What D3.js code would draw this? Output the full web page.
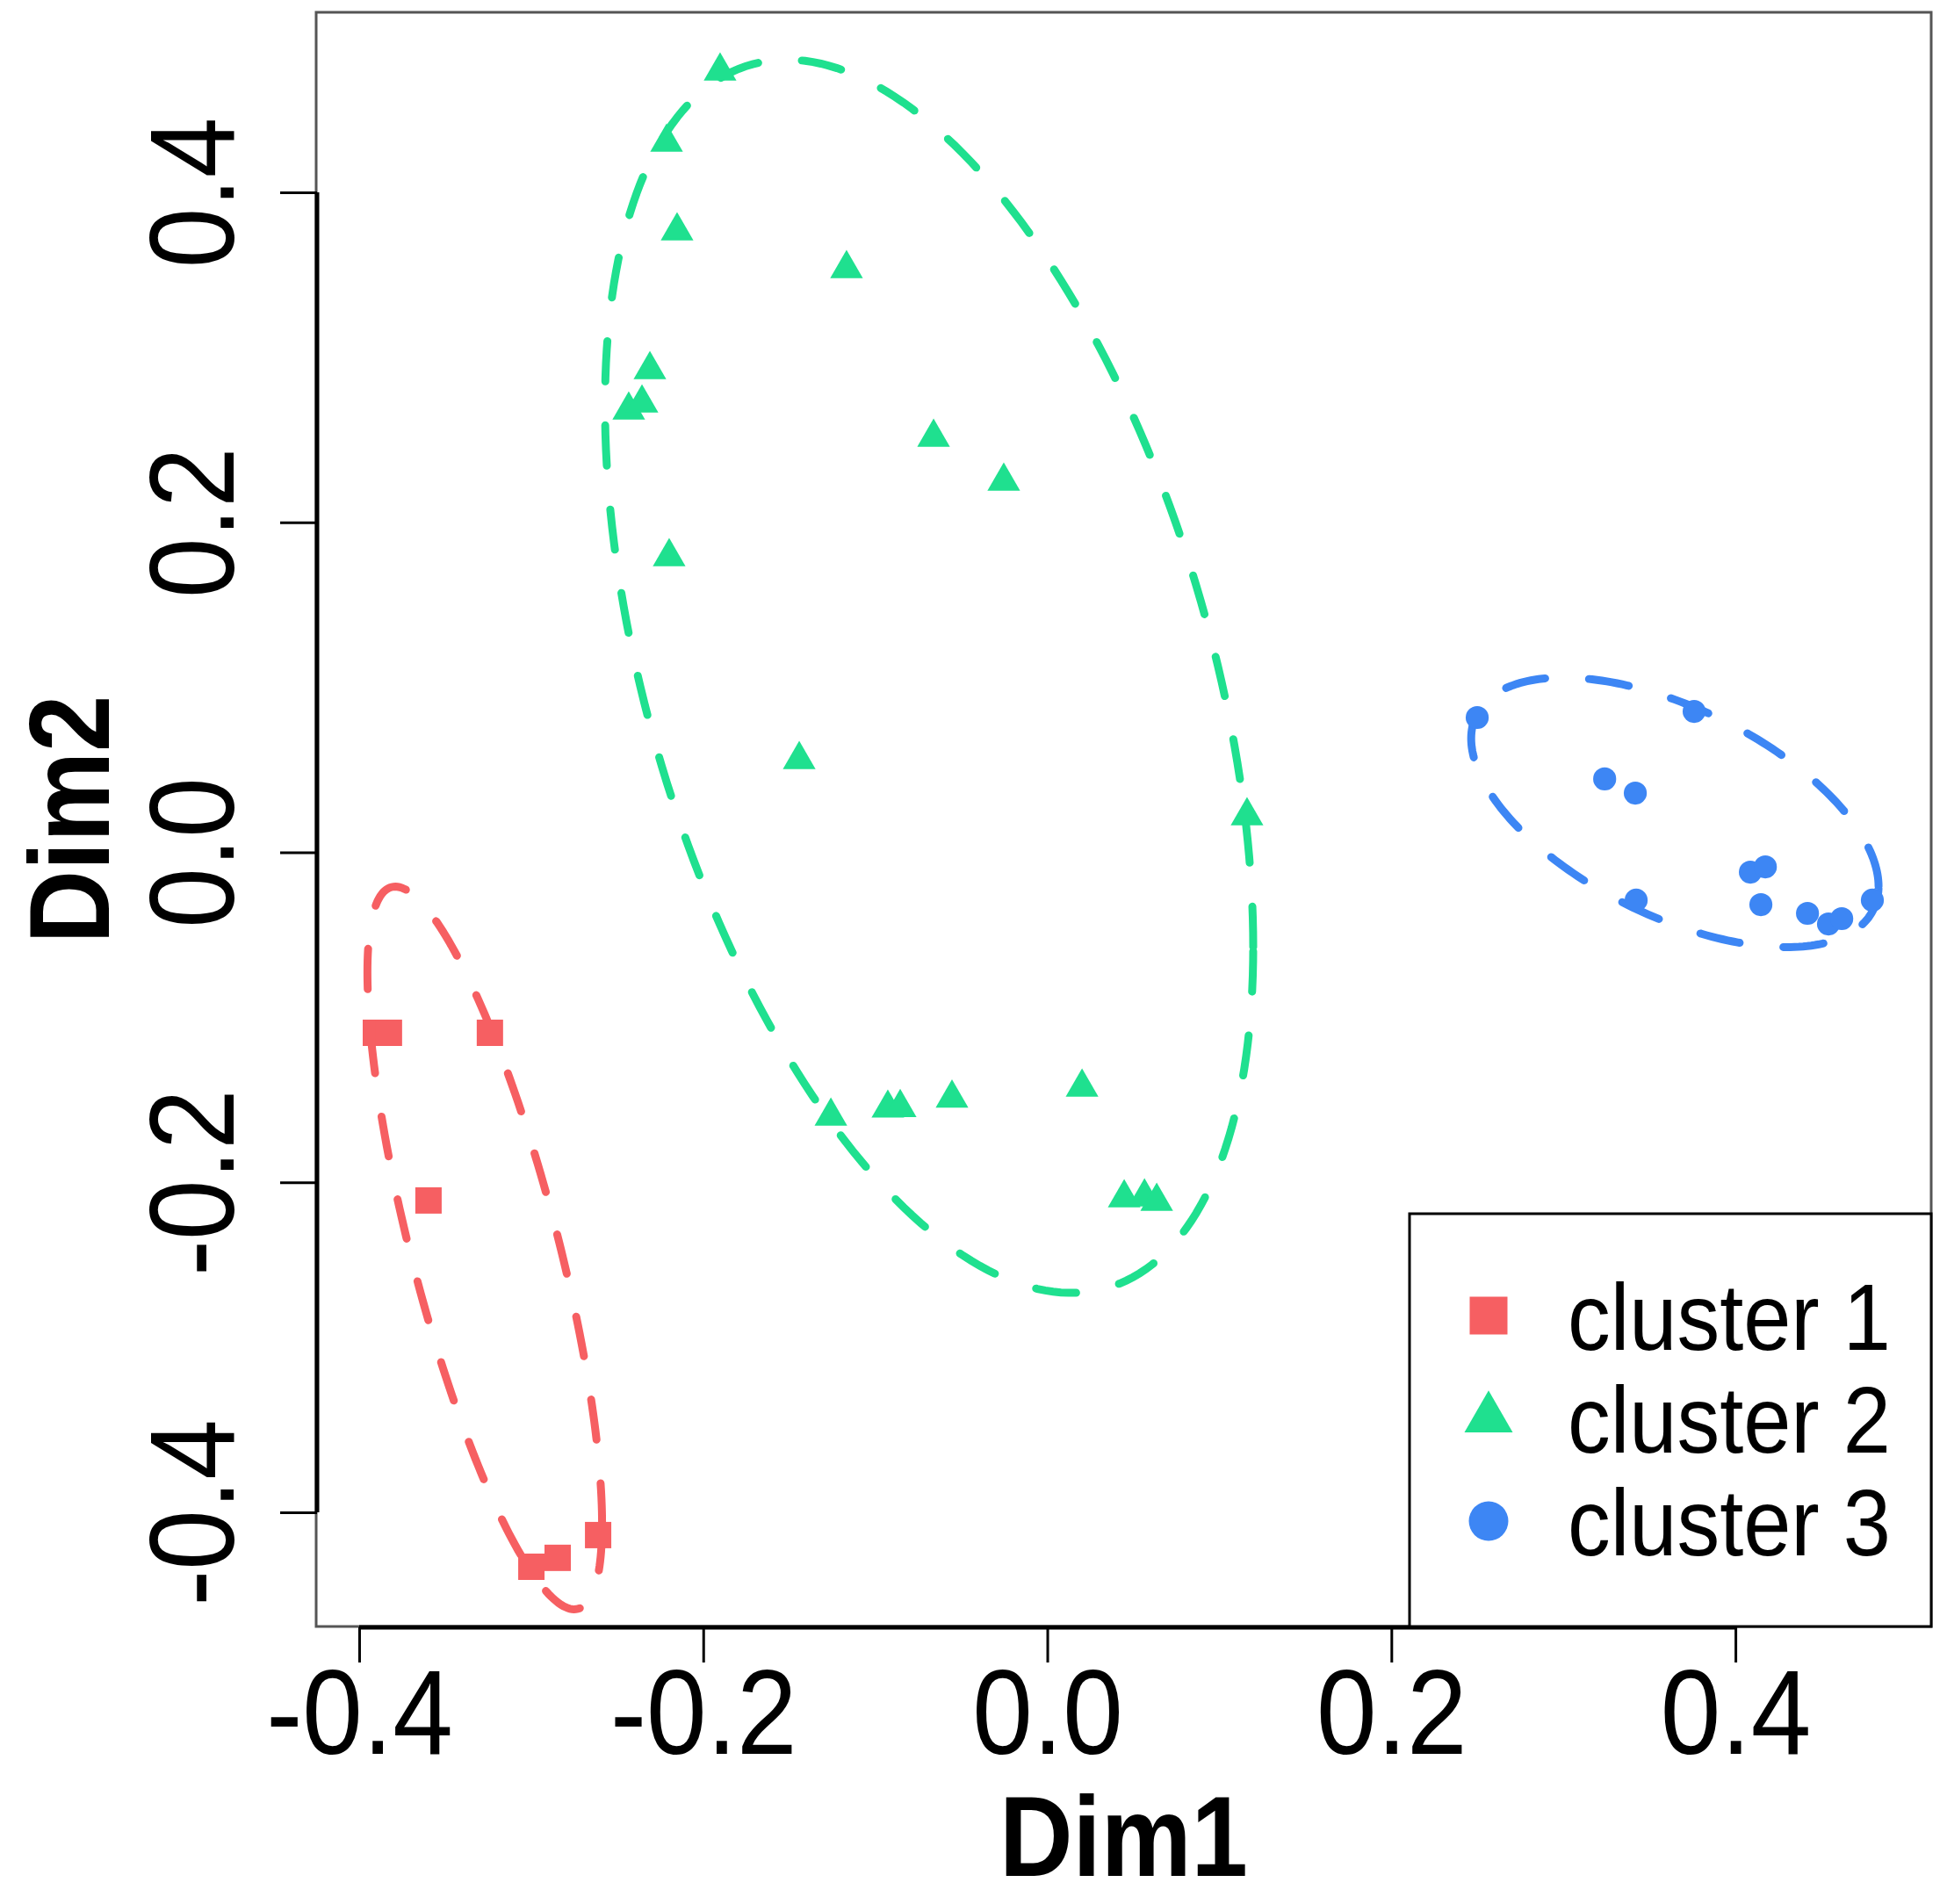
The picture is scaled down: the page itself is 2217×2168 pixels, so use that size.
<!DOCTYPE html>
<html>
<head>
<meta charset="utf-8">
<script src="https://cdn.jsdelivr.net/npm/d3@7"></script>
<style>
  body { margin: 0; background: #fff; }
  text { font-family: "Liberation Sans", Arial, sans-serif; fill: #000; }
</style>
</head>
<body>
<div id="chart"></div>
<script>
// cluster points (Dim1, Dim2)
var cluster1X = [-0.3903, -0.3827, -0.3240, -0.3597, -0.2999, -0.2846, -0.2611];
var cluster1Y = [-0.1094, -0.1094, -0.1094, -0.2110, -0.4330, -0.4276, -0.4138];

var cluster2X = [-0.1902, -0.2213, -0.2152, -0.1167, -0.2310, -0.2433, -0.2356, -0.0661, -0.0253, -0.2198,
                 -0.1442, 0.1161, -0.1258, -0.0927, -0.0855, -0.0554, 0.0202, 0.0447, 0.0565, 0.0636];
var cluster2Y = [0.4735, 0.4303, 0.3766, 0.3537, 0.2925, 0.2680, 0.2723, 0.2515, 0.2249, 0.1791,
                 0.0562, 0.0221, -0.1600, -0.1551, -0.1548, -0.1490, -0.1424, -0.2095, -0.2089, -0.2116];

var cluster3X = [0.2499, 0.3760, 0.3240, 0.3418, 0.4087, 0.4174, 0.4148, 0.4419, 0.4541, 0.4618, 0.4796, 0.3423];
var cluster3Y = [0.0817, 0.0854, 0.0445, 0.0359, -0.0120, -0.0088, -0.0317, -0.0370, -0.0434, -0.0402, -0.0290, -0.0290];

// ellipses: centre, sd along each axis, correlation
var ellCx = [-0.3270, -0.0687, 0.3648];
var ellCy = [-0.2398, 0.1067, 0.0242];
var ellSx = [0.0682, 0.1884, 0.1184];
var ellSy = [0.2190, 0.3737, 0.0817];
var ellR  = [-0.763, -0.439, -0.548];

var clusterNames = ["cluster 1", "cluster 2", "cluster 3"];
var colors = ["#f65f62", "#1fe08f", "#3d86f4"];
var xTicks = [-0.4, -0.2, 0.0, 0.2, 0.4];
var yTicks = [-0.4, -0.2, 0.0, 0.2, 0.4];

var W = 2217, H = 2168;
var box = {left: 360, right: 2199, top: 14, bottom: 1852};
var squeeze = 0.89; // text in the picture looks condensed

var svg = d3.select("#chart").append("svg")
    .attr("width", W)
    .attr("height", H);

var x = d3.scaleLinear().domain([-0.425, 0.5138]).range([box.left, box.right]);
var y = d3.scaleLinear().domain([-0.4692, 0.5091]).range([box.bottom, box.top]);

// plot frame
svg.append("rect")
    .attr("x", box.left)
    .attr("y", box.top)
    .attr("width", box.right - box.left)
    .attr("height", box.bottom - box.top)
    .attr("fill", "none")
    .attr("stroke", "#555")
    .attr("stroke-width", 3);

// x axis
var fmt = function (d) { return d.toFixed(1); };
var xAxis = svg.append("g")
    .attr("transform", "translate(0," + (box.bottom + 1) + ")")
    .call(d3.axisBottom(x).tickValues(xTicks).tickFormat(fmt).tickSize(40).tickPadding(0));
xAxis.select(".domain").remove();
xAxis.selectAll(".tick line").attr("stroke", "#000").attr("stroke-width", 3);
xAxis.selectAll(".tick text")
    .attr("y", 144)
    .attr("dy", null)
    .attr("transform", "scale(0.9,1)")
    .style("font-size", "137px");
xAxis.append("line")
    .attr("x1", x(-0.4)).attr("x2", x(0.4))
    .attr("stroke", "#000").attr("stroke-width", 5);

// y axis
var yAxis = svg.append("g")
    .attr("transform", "translate(" + (box.left + 1) + ",0)")
    .call(d3.axisLeft(y).tickValues(yTicks).tickFormat(fmt).tickSize(42).tickPadding(0));
yAxis.select(".domain").remove();
yAxis.selectAll(".tick line").attr("stroke", "#000").attr("stroke-width", 3);
yAxis.selectAll(".tick text")
    .attr("x", 0)
    .attr("y", 0)
    .attr("dy", null)
    .attr("text-anchor", "middle")
    .attr("transform", "translate(-95,0) rotate(-90) scale(0.9,1)")
    .style("font-size", "137px");
yAxis.append("line")
    .attr("y1", y(-0.4)).attr("y2", y(0.4))
    .attr("stroke", "#000").attr("stroke-width", 5);

// axis titles
svg.append("text")
    .attr("transform", "translate(" + ((box.left + box.right) / 2) + ",2136) scale(" + squeeze + ",1)")
    .attr("text-anchor", "middle")
    .style("font-size", "130px")
    .style("font-weight", "bold")
    .text("Dim1");

svg.append("text")
    .attr("transform", "translate(124," + ((box.top + box.bottom) / 2) + ") rotate(-90) scale(" + squeeze + ",1)")
    .attr("text-anchor", "middle")
    .style("font-size", "130px")
    .style("font-weight", "bold")
    .text("Dim2");

// ellipses
var line = d3.line()
    .x(function (d) { return x(d[0]); })
    .y(function (d) { return y(d[1]); })
    .curve(d3.curveLinearClosed);

ellCx.forEach(function (cx, i) {
    var pts = d3.range(0, 2 * Math.PI, Math.PI / 120).map(function (t) {
        return [cx + ellSx[i] * Math.cos(t),
                ellCy[i] + ellSy[i] * (ellR[i] * Math.cos(t) + Math.sqrt(1 - ellR[i] * ellR[i]) * Math.sin(t))];
    });
    svg.append("path")
        .datum(pts)
        .attr("d", line)
        .attr("fill", "none")
        .attr("stroke", colors[i])
        .attr("stroke-width", 9)
        .attr("stroke-linecap", "round")
        .attr("stroke-dasharray", "46,50");
});

// points
var shapes = [d3.symbolSquare, d3.symbolTriangle, d3.symbolCircle];
var sizes = [900, 600, 540];
var legendSizes = [1850, 1310, 1590];
var seriesX = [cluster1X, cluster2X, cluster3X];
var seriesY = [cluster1Y, cluster2Y, cluster3Y];

seriesX.forEach(function (xs, i) {
    svg.append("g").selectAll("path")
        .data(xs)
        .enter().append("path")
        .attr("transform", function (d, j) {
            return "translate(" + x(d) + "," + y(seriesY[i][j]) + ")";
        })
        .attr("d", d3.symbol().type(shapes[i]).size(sizes[i]))
        .attr("fill", colors[i]);
});

// legend
var legend = svg.append("g");
legend.append("rect")
    .attr("x", 1605)
    .attr("y", 1382)
    .attr("width", box.right - 1605)
    .attr("height", box.bottom - 1382)
    .attr("fill", "#fff")
    .attr("stroke", "#000")
    .attr("stroke-width", 3);

var items = legend.selectAll("g.item")
    .data(clusterNames)
    .enter().append("g")
    .attr("class", "item")
    .attr("transform", function (d, i) { return "translate(0," + (1498 + i * 117) + ")"; });

items.append("path")
    .attr("transform", "translate(1695,0)")
    .attr("d", function (d, i) { return d3.symbol().type(shapes[i]).size(legendSizes[i])(); })
    .attr("fill", function (d, i) { return colors[i]; });

items.append("text")
    .attr("transform", "translate(1785,39) scale(0.91,1)")
    .style("font-size", "107px")
    .text(function (d) { return d; });
</script>
</body>
</html>
